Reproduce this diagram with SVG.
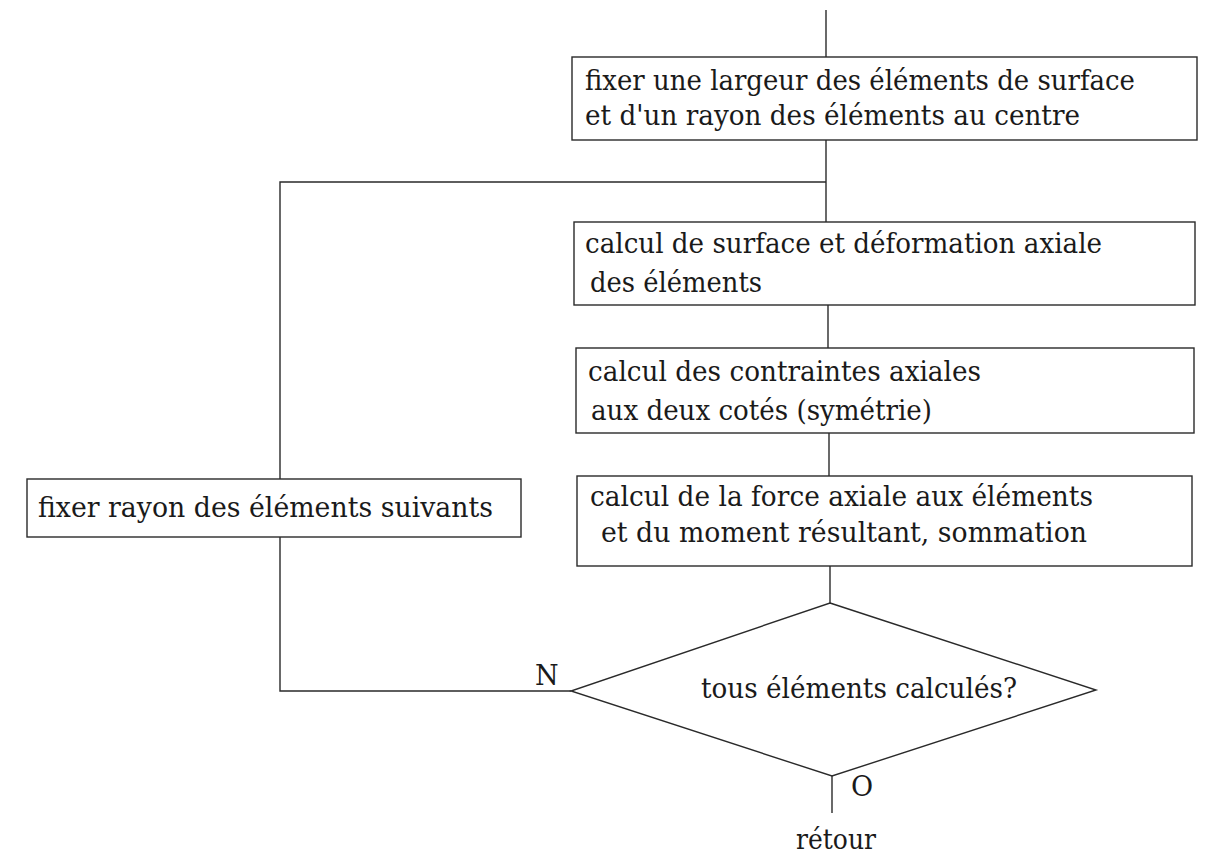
<svg xmlns="http://www.w3.org/2000/svg" width="1205" height="859" viewBox="0 0 1205 859">
<style>
.box{fill:#fff;stroke:#2a2a2a;stroke-width:1.4}
.ln{fill:none;stroke:#2a2a2a;stroke-width:1.4}
text{font-family:"DejaVu Serif","Liberation Serif",serif;font-size:27px;fill:#1a1a1a}
</style>
<rect width="1205" height="859" fill="#fff"/>
<g id="connectors">
<path class="ln" d="M826,10 V57"/>
<path class="ln" d="M826,140 V222"/>
<path class="ln" d="M828,305 V348"/>
<path class="ln" d="M829,433 V476"/>
<path class="ln" d="M830,566 V603"/>
<path class="ln" d="M832,776 V813"/>
<path class="ln" d="M571,691 H280 V182 H826"/>
</g>
<g id="n1">
<rect class="box" x="572" y="57" width="625" height="83"/>
<text x="585" y="90" textLength="550" lengthAdjust="spacingAndGlyphs">fixer une largeur des éléments de surface</text>
<text x="585" y="125" textLength="495" lengthAdjust="spacingAndGlyphs">et d'un rayon des éléments au centre</text>
</g>
<g id="n2">
<rect class="box" x="574" y="222" width="621" height="83"/>
<text x="585" y="253" textLength="517" lengthAdjust="spacingAndGlyphs">calcul de surface et déformation axiale</text>
<text x="590" y="292" textLength="172" lengthAdjust="spacingAndGlyphs">des éléments</text>
</g>
<g id="n3">
<rect class="box" x="576" y="348" width="618" height="85"/>
<text x="588" y="381" textLength="393" lengthAdjust="spacingAndGlyphs">calcul des contraintes axiales</text>
<text x="591" y="420" textLength="341" lengthAdjust="spacingAndGlyphs">aux deux cotés (symétrie)</text>
</g>
<g id="n4">
<rect class="box" x="577" y="476" width="615" height="90"/>
<text x="590" y="506" textLength="503" lengthAdjust="spacingAndGlyphs">calcul de la force axiale aux éléments</text>
<text x="601" y="542" textLength="486" lengthAdjust="spacingAndGlyphs">et du moment résultant, sommation</text>
</g>
<g id="n5">
<rect class="box" x="27" y="479" width="494" height="58"/>
<text x="38" y="517" textLength="455" lengthAdjust="spacingAndGlyphs">fixer rayon des éléments suivants</text>
</g>
<g id="decision">
<polygon class="box" points="830,603 1096,690 832,776 571,691"/>
<text x="701" y="698" textLength="316" lengthAdjust="spacingAndGlyphs">tous éléments calculés?</text>
</g>
<g id="labels">
<text x="535" y="685">N</text>
<text x="851" y="796">O</text>
<text x="796" y="849" textLength="80" lengthAdjust="spacingAndGlyphs">rétour</text>
</g>
</svg>
